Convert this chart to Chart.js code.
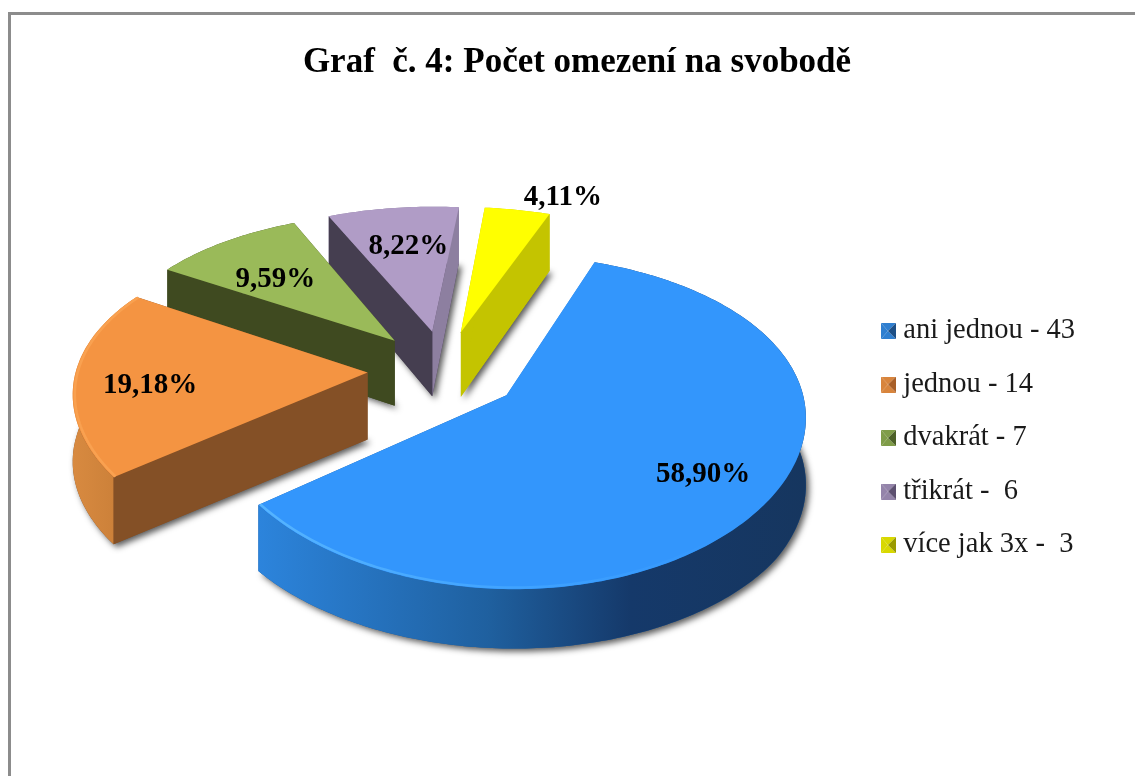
<!DOCTYPE html>
<html><head><meta charset="utf-8">
<style>html,body{margin:0;padding:0;background:#fff;overflow:hidden}canvas{display:block}</style>
<script src="https://cdn.jsdelivr.net/npm/chart.js@4"></script>
</head><body><canvas id="c" width="1135" height="776"></canvas>
<script>
const titleText = 'Graf  č. 4: Počet omezení na svobodě';
const categories = ['ani jednou - 43','jednou - 14','dvakrát - 7','třikrát -  6','více jak 3x -  3'];
const counts = [43,14,7,6,3];
const percentLabels = ['58,90%','19,18%','9,59%','8,22%','4,11%'];
const topColors = ['#3396fc','#f49442','#9aba59','#b09cc6','#ffff00'];
const startFaceColors = ['#1c5a9c','#845026','#3f4a20','#453e50','#c4c400'];
const endFaceColors = ['#1c5a9c','#845026','#3f4a20','#8d7fa0','#c4c400'];
const legendDark = ['#1d4f86','#a85f28','#4d6128','#5d5070','#9a9a00'];
const legendMid = ['#2f7fd0','#d8843c','#7f9c48','#9484aa','#d8d800'];
const CAM = {dx:-22, dy:-69, scale:0.98, k:0.533, p:0.1545, px:0.11, depth:67};
const labelRadial = [0.765,0.74,0.63,0.66,1.16];
const labelTurn = [-0.5,-3.5,-4,1,7.5];
const drawOrder = [3,4,2,1,0];
const sideStops = [
  [[0,'#2c84dc'],[0.42,'#1f609f'],[0.68,'#15396a'],[1,'#16365f']],
  [[0,'#d88a40'],[1,'#c67c36']],
  [[0,'#3f4a20'],[1,'#3f4a20']],
  [[0,'#8d7fa0'],[1,'#8d7fa0']],
  [[0,'#c4c400'],[1,'#c4c400']]
];
const rimStops = [
  [[0,'#55b4ff'],[0.5,'#3fa2ff'],[0.85,'#3396fc'],[1,'#3396fc']],
  [[0,'#f9a150'],[1,'#f9a150']],
  null,null,null
];
const rimFrontOnly = [true,false,false,false,false];

function swatch(i){
  const s=document.createElement('canvas');s.width=15;s.height=16;
  const g=s.getContext('2d');
  const tri=(c,a,b,d,e)=>{g.fillStyle=c;g.beginPath();g.moveTo(a,b);g.lineTo(d,e);g.lineTo(7,8);g.closePath();g.fill();};
  tri(legendMid[i],0,0,15,0);tri(legendMid[i],0,16,15,16);
  tri(legendMid[i],0,0,0,16);tri(legendDark[i],15,0,15,16);
  return s;
}

function camera(el){
  const S=el.outerRadius*CAM.scale, cx=el.x+CAM.dx, cy=el.y+CAM.dy;
  return (u,v,z)=>{
    const f=1/(1-CAM.p*v),fx=1/(1-CAM.px*v);
    const d=CAM.depth*Math.min(f,1)*(v>0.7?1-(v-0.7)*0.25:1);
    return [cx+u*fx*S, cy+v*CAM.k*f*S+z*d];
  };
}
function sliceGeom(el){
  const a0=el.startAngle,a1=el.endAngle,m=(a0+a1)/2,e=(el.options.offset||0)/el.outerRadius;
  const ou=Math.cos(m)*e,ov=Math.sin(m)*e,P=camera(el);
  const n=Math.max(8,Math.round((a1-a0)*60));
  const rim=(z,r=1,front=false)=>{const o=[];for(let j=0;j<=n;j++){const a=a0+(a1-a0)*j/n;if(front&&Math.sin(a)<0.02)continue;o.push(P(ou+r*Math.cos(a),ov+r*Math.sin(a),z));}return o;};
  return {P,ou,ov,a0,a1,m,rim,apex:z=>P(ou,ov,z)};
}
function poly(ctx,pts,fill){ctx.beginPath();pts.forEach((p,i)=>i?ctx.lineTo(p[0],p[1]):ctx.moveTo(p[0],p[1]));ctx.closePath();ctx.fillStyle=fill;ctx.fill();}
function grad(ctx,pts,stops){
  const xs=pts.map(p=>p[0]),g=ctx.createLinearGradient(Math.min(...xs),0,Math.max(...xs),0);
  stops.forEach(s=>g.addColorStop(s[0],s[1]));return g;
}
const pie3d={
  id:'pie3d',
  afterLayout(chart){
    chart.legend.top+=50;chart.legend.bottom+=50;chart.legend.left+=1;chart.legend.right+=1;
  },
  beforeDraw(chart){
    const c=chart.ctx;c.save();c.fillStyle='#fff';c.fillRect(0,0,1135,776);
    c.fillStyle='#8c8c8c';c.fillRect(8,12,1127,3);c.fillRect(8,12,3,764);c.restore();
  },
  beforeDatasetDraw(chart,args){
    const c=chart.ctx,els=args.meta.data;
    drawOrder.forEach(i=>{
      const G=sliceGeom(els[i]);
      const top0=G.rim(0),bot=G.rim(1),A0=G.apex(0),A1=G.apex(1);
      c.save();
      c.shadowColor='rgba(0,0,0,0.65)';c.shadowBlur=6;c.shadowOffsetX=3;c.shadowOffsetY=3;
      poly(c,[A1,...bot],startFaceColors[i]);
      c.restore();
      const endFace=[A0,top0[top0.length-1],bot[bot.length-1],A1];
      const startFace=[A0,top0[0],bot[0],A1];
      const strip=[...top0,...bot.slice().reverse()];
      poly(c,endFace,endFaceColors[i]);
      poly(c,strip,grad(c,strip,sideStops[i]));
      poly(c,startFace,i===0?sideStops[0][0][1]:startFaceColors[i]);
      poly(c,[A0,...top0],topColors[i]);
      if(rimStops[i]){
        const r=G.rim(0,0.993,rimFrontOnly[i]);
        c.save();c.beginPath();r.forEach((p,j)=>j?c.lineTo(p[0],p[1]):c.moveTo(p[0],p[1]));
        c.strokeStyle=grad(c,r,rimStops[i]);c.lineWidth=2.5;c.stroke();c.restore();
      }
    });
    return false;
  },
  afterDatasetsDraw(chart){
    const c=chart.ctx,els=chart.getDatasetMeta(0).data;
    c.save();c.font='bold 29px "Liberation Serif"';c.fillStyle='#000';c.textAlign='center';c.textBaseline='middle';
    els.forEach((el,i)=>{
      const G=sliceGeom(el),a=G.m+labelTurn[i]*Math.PI/180,r=labelRadial[i];
      const p=G.P(G.ou+r*Math.cos(a),G.ov+r*Math.sin(a),0);
      c.fillText(percentLabels[i],p[0],p[1]);
    });
    c.restore();
  }
};
new Chart(document.getElementById('c'),{
  type:'pie',
  data:{labels:categories,datasets:[{data:counts,backgroundColor:topColors,borderWidth:0,offset:78,hoverOffset:0}]},
  options:{
    responsive:false,animation:false,devicePixelRatio:1,rotation:20.5,
    layout:{padding:{left:70,right:51,top:0,bottom:0}},
    plugins:{
      tooltip:{enabled:false},
      title:{display:true,text:titleText,color:'#000',font:{family:'"Liberation Serif"',size:35,weight:'bold'},padding:{top:42,bottom:19}},
      legend:{position:'right',labels:{
        color:'#1a1a1a',font:{family:'"Liberation Serif"',size:28.5},
        usePointStyle:true,pointStyleWidth:1,padding:25,
        generateLabels:()=>categories.map((t,i)=>({text:t,fillStyle:topColors[i],strokeStyle:topColors[i],lineWidth:0,pointStyle:swatch(i),hidden:false,index:i,fontColor:'#1a1a1a'}))
      }}
    }
  },
  plugins:[pie3d]
});
</script></body></html>
